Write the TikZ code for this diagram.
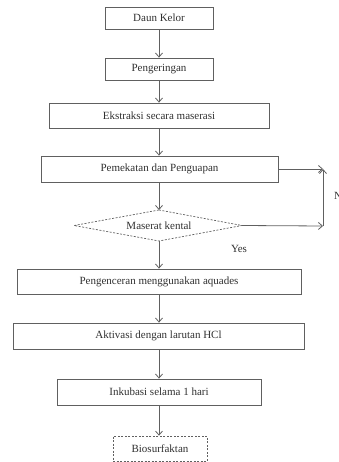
\documentclass[tikz,border=0pt]{standalone}
\usepackage{fontspec}
\setmainfont{Liberation Serif}
\usetikzlibrary{arrows.meta}
\definecolor{ln}{HTML}{606060}
\definecolor{tx}{HTML}{303030}
\begin{document}
\begin{tikzpicture}[x=1pt,y=-1pt,
  font=\fontsize{11pt}{13pt}\selectfont,
  every node/.style={text=tx},
  stepbox/.style={draw=ln,line width=0.8pt,rectangle,inner sep=0pt},
  decline/.style={draw=ln,line width=0.7pt,dash pattern=on 2pt off 1.5pt},
  endbox/.style={draw=ln,line width=0.7pt,rectangle,inner sep=0pt,dash pattern=on 2pt off 1.5pt},
  arr/.style={draw=ln,line width=0.8pt,-{Straight Barb[length=4pt,width=7pt]}},
  lin/.style={draw=ln,line width=0.8pt}]
\useasboundingbox (0,0) rectangle (339,462);
\node[stepbox,minimum width=108pt,minimum height=22pt] (b1) at (159,18) {Daun Kelor};
\node[stepbox,minimum width=108pt,minimum height=22pt] (b2) at (159,69) {Pengeringan};
\node[stepbox,minimum width=220pt,minimum height=25pt] (b3) at (159,115.5) {Ekstraksi secara maserasi};
\node[stepbox,minimum width=237pt,minimum height=26pt] (b4) at (159.5,169) {Pemekatan dan Penguapan};
\node[inner sep=0pt] (d) at (159,225.5) {Maserat kental};
\coordinate (dN) at (159,210);
\coordinate (dS) at (159,241);
\coordinate (dW) at (74,225.5);
\coordinate (dE) at (242,225.5);
\draw[decline] (dN) -- (dE) -- (dS) -- (dW) -- cycle;
\node[stepbox,minimum width=284pt,minimum height=25pt] (b5) at (159,281.5) {Pengenceran menggunakan aquades};
\node[stepbox,minimum width=291pt,minimum height=26pt] (b6) at (158.5,336) {Aktivasi dengan larutan HCl};
\node[stepbox,minimum width=204pt,minimum height=26pt] (b7) at (159,392) {Inkubasi selama 1 hari};
\node[endbox,minimum width=94pt,minimum height=25pt] (b8) at (160,448.5) {Biosurfaktan};
\coordinate (ct) at (323,169);
\coordinate (cb) at (323,226);
\node[anchor=west,inner sep=0pt] (no) at (334,196) {No};
\node[inner sep=0pt] (yes) at (239,249) {Yes};
\draw[arr] (b1.south -| dN) -- (b2.north -| dN);
\draw[arr] (b2.south -| dN) -- (b3.north -| dN);
\draw[arr] (b3.south -| dN) -- (b4.north -| dN);
\draw[arr] (b4.south -| dN) -- (dN);
\draw[arr] (dS) -- (b5.north -| dS);
\draw[arr] (b5.south -| dS) -- (b6.north -| dS);
\draw[arr] (b6.south -| dS) -- (b7.north -| dS);
\draw[arr] (b7.south -| dS) -- (b8.north -| dS);
\draw[arr] (dE) -- (cb);
\draw[arr] (cb) -- (ct);
\draw[arr] (b4.east) -- (ct);
\end{tikzpicture}
\end{document}
